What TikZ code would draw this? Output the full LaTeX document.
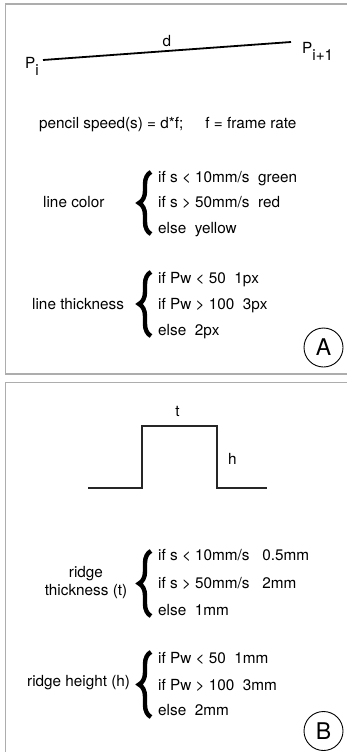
\documentclass[tikz,border=0pt]{standalone}
\usepackage{fontspec}
\setmainfont{TeX Gyre Heros}
\usetikzlibrary{decorations.pathreplacing}
\begin{document}
\begin{tikzpicture}[x=1pt,y=-1pt,
  font=\fontsize{15.3}{18}\selectfont,
  txt/.style={inner sep=0pt, anchor=base west},
  ctxt/.style={inner sep=0pt, anchor=base},
  frame/.style={draw=black!32, line width=1.6pt},
  bigbrace/.style={decorate, decoration={brace, amplitude=12pt}, line width=4.4pt},
  badge/.style={circle, draw, line width=0.9pt, minimum size=39pt, inner sep=0pt, font=\fontsize{23}{26}\selectfont},
  wire/.style={line width=1.8pt},
  pulse/.style={line width=1.6pt, black!85}]
\useasboundingbox (0,0) rectangle (347,752);
% frames
\coordinate (fa1) at (349,4);
\coordinate (fa2) at (5.5,4);
\coordinate (fa3) at (5.5,374);
\coordinate (fa4) at (349,374);
\draw[frame] (fa1) -- (fa2) -- (fa3) -- (fa4);
\coordinate (fb1) at (349,382.5);
\coordinate (fb2) at (5.5,382.5);
\coordinate (fb3) at (5.5,754);
\draw[frame] (fb1) -- (fb2) -- (fb3);

% ---------- panel A ----------
\coordinate (s0) at (43,60);
\coordinate (s1) at (291,42);
\draw[wire] (s0) -- (s1);
\node[txt] (Pi) at (25,68) {P\raisebox{-7pt}{i}};
\node[txt] (Pn) at (302,53) {P\raisebox{-7pt}{i+1}};
\node[ctxt] (d) at (167,46.5) {d};
\node[txt] (speed) at (39,128.3) {pencil speed(s) = d*f;\hspace{22pt}f = frame rate};

\node[txt] (lc) at (43,207) {line color};
\coordinate (lcb) at (151,234);
\coordinate (lct) at (151,172);
\draw[bigbrace] (lcb) -- (lct);
\node[txt] (lc1) at (158,182) {if s < 10mm/s~~green};
\node[txt] (lc2) at (158,207.5) {if s > 50mm/s~~red};
\node[txt] (lc3) at (158,233) {else~~yellow};

\node[txt] (lt) at (32,309) {line thickness};
\coordinate (ltb) at (151,336);
\coordinate (ltt) at (151,272);
\draw[bigbrace] (ltb) -- (ltt);
\node[txt] (lt1) at (158,283) {if Pw < 50~~1px};
\node[txt] (lt2) at (158,309.5) {if Pw > 100~~3px};
\node[txt] (lt3) at (158,335) {else~~2px};

\node[badge] (A) at (323.5,347.5) {A};

% ---------- panel B ----------
\coordinate (q0) at (88,488);
\coordinate (q1) at (142,488);
\coordinate (q2) at (142,426);
\coordinate (q3) at (217,426);
\coordinate (q4) at (217,488);
\coordinate (q5) at (267,488);
\draw[pulse] (q0) -- (q1) -- (q2) -- (q3) -- (q4) -- (q5);
\node[ctxt] (t) at (177.5,416) {t};
\node[txt] (h) at (228,464) {h};

\node[ctxt] (rt1) at (86,577) {ridge};
\node[ctxt] (rt2) at (86,595) {thickness (t)};
\coordinate (rtb) at (151,616);
\coordinate (rtt) at (151,551);
\draw[bigbrace] (rtb) -- (rtt);
\node[txt] (rt3) at (158,560) {if s < 10mm/s~~~0.5mm};
\node[txt] (rt4) at (158,588) {if s > 50mm/s~~~2mm};
\node[txt] (rt5) at (158,615) {else~~1mm};

\node[txt] (rh) at (27,686) {ridge height (h)};
\coordinate (rhb) at (151,717);
\coordinate (rht) at (151,652);
\draw[bigbrace] (rhb) -- (rht);
\node[txt] (rh1) at (158,663) {if Pw < 50~~1mm};
\node[txt] (rh2) at (158,690) {if Pw > 100~~3mm};
\node[txt] (rh3) at (158,715) {else~~2mm};

\node[badge] (B) at (323.5,731) {B};
\end{tikzpicture}
\end{document}
